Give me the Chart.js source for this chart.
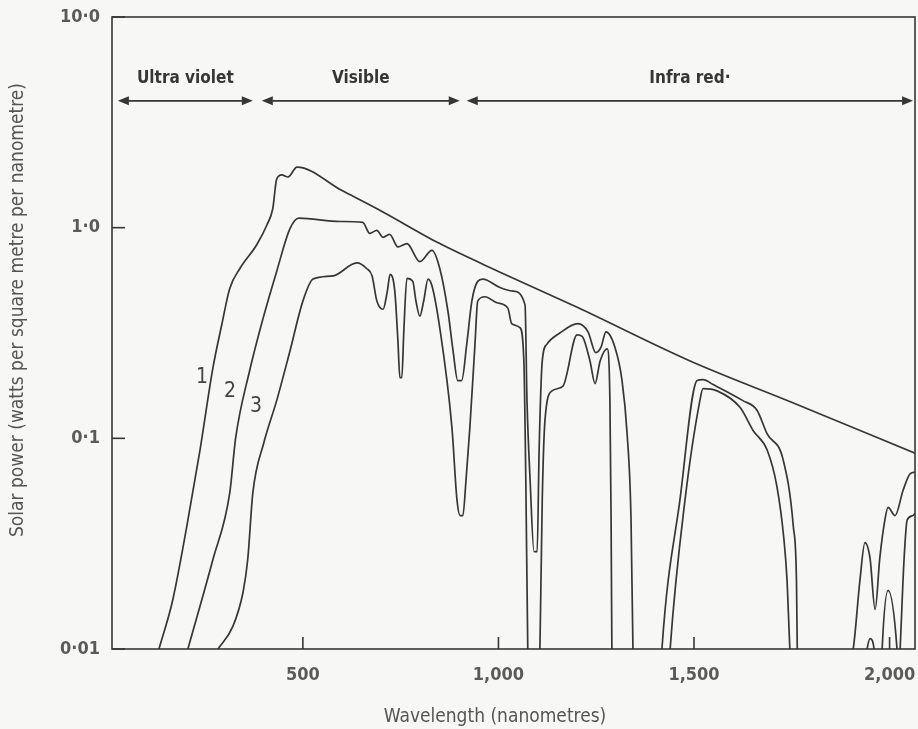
<!DOCTYPE html>
<html>
<head>
<meta charset="utf-8">
<script src="https://cdn.jsdelivr.net/npm/chart.js@4.4.1/dist/chart.umd.min.js"></script>
<style>
html, body { margin: 0; padding: 0; background: #f7f7f5; }
#wrap { width: 918px; height: 729px; }
</style>
</head>
<body>
<div id="wrap"><canvas id="spectre" width="918" height="729"></canvas></div>
<script>
// Courbe 1 : hors atmosphère
const curve1Nm = [132, 167, 203, 237, 270, 293, 313, 339, 382, 408, 423, 433, 446, 462, 485, 600, 700, 850, 1000, 1200, 1490, 1751, 2065];
const curve1Val = [0.010, 0.017, 0.038, 0.088, 0.216, 0.349, 0.515, 0.64, 0.83, 1.03, 1.23, 1.70, 1.78, 1.74, 1.94, 1.50, 1.20, 0.84, 0.62, 0.42, 0.233, 0.148, 0.085];

// Courbe 2
const curve2Nm = [206, 270, 313, 328, 364, 398, 433, 467, 490, 595, 653, 671, 689, 705, 722, 743, 766, 799, 830,
  850, 871, 884, 896, 906, 919, 932, 947, 960, 1004, 1037, 1068, 1073, 1081, 1091, 1099, 1104, 1112, 1124, 1157,
  1203, 1229, 1249, 1262, 1275, 1298, 1316, 1329, 1339, 1344, 1350, 1410, 1418, 1464, 1508, 1523, 1549, 1625, 1661, 1687,
  1728, 1754, 1762, 1764, 1770, 1840, 1907, 1924, 1937, 1950, 1963, 1975, 1988, 1996, 2014, 2035, 2053, 2065];
const curve2Val = [0.010, 0.0266, 0.055, 0.10, 0.21, 0.37, 0.62, 0.99, 1.11, 1.07, 1.06, 0.94, 0.97, 0.90, 0.93, 0.81, 0.84, 0.69, 0.78,
  0.64, 0.40, 0.26, 0.188, 0.188, 0.28, 0.448, 0.556, 0.57, 0.52, 0.50, 0.43, 0.151, 0.063, 0.029, 0.029, 0.088, 0.233, 0.28, 0.316,
  0.35, 0.32, 0.255, 0.27, 0.32, 0.27, 0.188, 0.105, 0.041, 0.0098, 0.005, 0.005, 0.010, 0.051, 0.188, 0.19, 0.18, 0.151, 0.136, 0.105,
  0.079, 0.038, 0.021, 0.010, 0.005, 0.005, 0.010, 0.021, 0.032, 0.027, 0.0154, 0.027, 0.041, 0.047, 0.043, 0.057, 0.068, 0.069];

// Courbe 3
const curve3Nm = [283, 321, 347, 359, 372, 400, 433, 467, 500, 526, 577, 638, 663, 677, 689, 705, 716, 723, 735, 743,
  748, 753, 758, 766, 781, 789, 799, 809, 820, 830, 850, 881, 894, 902, 909, 917, 927, 940, 947, 965,
  996, 1024, 1034, 1055, 1065, 1070, 1075, 1080, 1100, 1106, 1112, 1119, 1137, 1165, 1201, 1214, 1234, 1247, 1260, 1278,
  1285, 1288, 1290, 1295, 1430, 1439, 1477, 1515, 1523, 1559, 1618, 1651, 1687, 1712, 1730, 1738, 1745, 1750, 1860, 1937,
  1950, 1963, 1970, 1976, 1981, 1996, 2019, 2023, 2027, 2037, 2045, 2060, 2065];
const curve3Val = [0.010, 0.0128, 0.0186, 0.0266, 0.055, 0.095, 0.151, 0.26, 0.448, 0.57, 0.59, 0.68, 0.64, 0.59, 0.45, 0.41, 0.50, 0.60, 0.50, 0.29,
  0.194, 0.194, 0.32, 0.575, 0.556, 0.45, 0.38, 0.45, 0.57, 0.53, 0.334, 0.113, 0.051, 0.043, 0.043, 0.063, 0.113, 0.28, 0.448, 0.47,
  0.44, 0.415, 0.35, 0.335, 0.233, 0.063, 0.010, 0.005, 0.005, 0.010, 0.051, 0.122, 0.168, 0.177, 0.31, 0.305, 0.233, 0.182, 0.233, 0.266,
  0.151, 0.041, 0.010, 0.005, 0.005, 0.010, 0.051, 0.151, 0.172, 0.168, 0.14, 0.109, 0.088, 0.059, 0.033, 0.021, 0.010, 0.005, 0.005, 0.009,
  0.0112, 0.009, 0.005, 0.005, 0.010, 0.019, 0.010, 0.007, 0.010, 0.0266, 0.041, 0.043, 0.044];

// Axes
const xTicks = [500, 1000, 1500, 2000];
const xTickLabels = ['500', '1,000', '1,500', '2,000'];
const yTicks = [0.01, 0.1, 1, 10];
const yTickLabels = ['0·01', '0·1', '1·0', '10·0'];

// Bandes du spectre
const regionNames = ['Ultra violet', 'Visible', 'Infra red·'];
const regionFrom = [27, 395, 919];
const regionTo = [372, 901, 2060];
const regionLevel = 4.0;

// Numéros des courbes
const curveTags = ['1', '2', '3'];
const tagNm = [242, 314, 380];
const tagVal = [0.195, 0.166, 0.141];

const FONT = "'DejaVu Sans Condensed', 'Liberation Sans Narrow', Roboto, sans-serif";
const ink = '#363636';
const grey = '#555555';

function points(nm, val) {
    return nm.map((x, i) => ({ x: x, y: val[i] }));
}

function trait(ctx, x1, y1, x2, y2) {
    ctx.beginPath();
    ctx.moveTo(x1, y1);
    ctx.lineTo(x2, y2);
    ctx.stroke();
}

function pointe(ctx, x, y, dir) {
    ctx.beginPath();
    ctx.moveTo(x, y);
    ctx.lineTo(x - dir * 11, y - 4.5);
    ctx.lineTo(x - dir * 11, y + 4.5);
    ctx.closePath();
    ctx.fill();
}

const decor = {
    id: 'decor',
    afterDraw(chart) {
        const { ctx, chartArea: a, scales: { x, y } } = chart;
        ctx.save();
        ctx.strokeStyle = ink;
        ctx.fillStyle = ink;
        ctx.lineWidth = 1.6;
        ctx.strokeRect(a.left, a.top, a.right - a.left, a.bottom - a.top);

        // petites graduations vers l'intérieur
        xTicks.forEach(v => {
            const px = x.getPixelForValue(v);
            trait(ctx, px, a.bottom, px, a.bottom - 12);
        });
        yTicks.forEach(v => {
            const py = y.getPixelForValue(v);
            trait(ctx, a.left, py, a.left + 13, py);
        });

        // flèches des bandes
        const ay = y.getPixelForValue(regionLevel);
        ctx.lineWidth = 1.8;
        ctx.font = 'bold 17px ' + FONT;
        ctx.textAlign = 'center';
        ctx.textBaseline = 'middle';
        regionNames.forEach((nom, i) => {
            const x1 = x.getPixelForValue(regionFrom[i]);
            const x2 = x.getPixelForValue(regionTo[i]);
            trait(ctx, x1 + 4, ay, x2 - 4, ay);
            pointe(ctx, x1, ay, -1);
            pointe(ctx, x2, ay, 1);
            ctx.fillText(nom, (x1 + x2) / 2, ay - 22);
        });

        // numéros des courbes
        ctx.font = '21px ' + FONT;
        ctx.fillStyle = '#444444';
        curveTags.forEach((t, i) => {
            ctx.fillText(t, x.getPixelForValue(tagNm[i]), y.getPixelForValue(tagVal[i]));
        });

        // titres des axes
        ctx.fillStyle = grey;
        ctx.font = '19px ' + FONT;
        ctx.fillText('Wavelength (nanometres)', 495, 717);
        ctx.translate(18, 310);
        ctx.rotate(-Math.PI / 2);
        ctx.fillText('Solar power (watts per square metre per nanometre)', 0, 0);
        ctx.restore();
    }
};

function serie(nm, val) {
    return {
        data: points(nm, val),
        borderColor: ink,
        borderWidth: 1.7,
        pointRadius: 0,
        fill: false,
        cubicInterpolationMode: 'monotone'
    };
}

new Chart(document.getElementById('spectre'), {
    type: 'line',
    data: {
        datasets: [
            serie(curve1Nm, curve1Val),
            serie(curve2Nm, curve2Val),
            serie(curve3Nm, curve3Val)
        ]
    },
    options: {
        responsive: false,
        devicePixelRatio: 1,
        animation: false,
        layout: { autoPadding: false, padding: { top: 17, right: 3, left: 0, bottom: 0 } },
        plugins: { legend: { display: false }, tooltip: { enabled: false } },
        scales: {
            x: {
                type: 'linear',
                min: 12,
                max: 2065,
                afterFit: s => { s.height = 80; s.paddingLeft = 0; s.paddingRight = 0; },
                afterBuildTicks: s => { s.ticks = xTicks.map(v => ({ value: v })); },
                grid: { display: false },
                border: { display: false },
                ticks: {
                    autoSkip: false,
                    maxRotation: 0,
                    padding: 8,
                    color: '#5a5a5a',
                    font: { family: FONT, size: 18, weight: 'bold' },
                    callback: (v, i) => xTickLabels[i]
                }
            },
            y: {
                type: 'logarithmic',
                min: 0.01,
                max: 10,
                afterFit: s => { s.width = 112; s.paddingTop = 0; s.paddingBottom = 0; },
                afterBuildTicks: s => { s.ticks = yTicks.map(v => ({ value: v })); },
                grid: { display: false },
                border: { display: false },
                ticks: {
                    autoSkip: false,
                    padding: 4,
                    color: '#5a5a5a',
                    font: { family: FONT, size: 18, weight: 'bold' },
                    callback: (v, i) => yTickLabels[i]
                }
            }
        }
    },
    plugins: [decor]
});
</script>
</body>
</html>
